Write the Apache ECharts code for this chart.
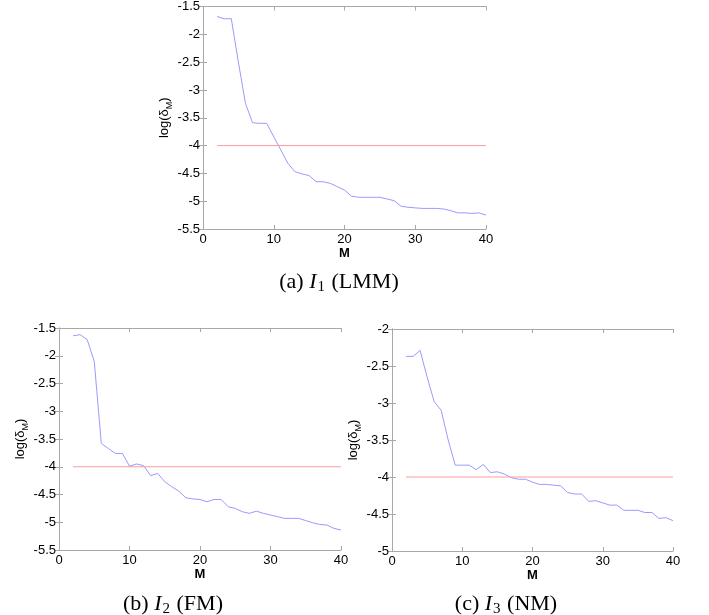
<!DOCTYPE html>
<html>
<head>
<meta charset="utf-8">
<script src="https://cdn.jsdelivr.net/npm/echarts@6/dist/echarts.min.js"></script>
<style>
html,body{margin:0;padding:0;background:#fff;}
#c{width:709px;height:615px;}
</style>
</head>
<body>
<div id="c"></div>
<script>
const M = [2,3,4,5,6,7,8,9,10,11,12,13,14,15,16,17,18,19,20,21,22,23,24,25,26,27,28,29,30,31,32,33,34,35,36,37,38,39,40];
const lmm = [-1.68,-1.72,-1.72,-2.5,-3.24,-3.59,-3.60,-3.60,-3.84,-4.08,-4.32,-4.47,-4.51,-4.54,-4.65,-4.65,-4.68,-4.74,-4.80,-4.91,-4.93,-4.93,-4.93,-4.93,-4.96,-4.99,-5.09,-5.11,-5.12,-5.13,-5.13,-5.13,-5.14,-5.17,-5.21,-5.21,-5.22,-5.21,-5.25];
const fm = [-1.64,-1.62,-1.71,-2.1,-3.58,-3.67,-3.76,-3.76,-3.99,-3.95,-3.98,-4.16,-4.12,-4.27,-4.36,-4.44,-4.56,-4.58,-4.59,-4.63,-4.59,-4.59,-4.72,-4.75,-4.81,-4.84,-4.80,-4.84,-4.87,-4.90,-4.93,-4.93,-4.93,-4.97,-5.01,-5.04,-5.05,-5.11,-5.14];
const nm = [-2.37,-2.37,-2.29,-2.65,-2.98,-3.10,-3.50,-3.84,-3.84,-3.84,-3.90,-3.83,-3.94,-3.93,-3.96,-4.01,-4.03,-4.03,-4.07,-4.10,-4.10,-4.11,-4.12,-4.21,-4.23,-4.23,-4.33,-4.32,-4.35,-4.38,-4.38,-4.45,-4.45,-4.45,-4.48,-4.48,-4.56,-4.55,-4.59];
const thresholdM = [2, 40];
const thresholdVal = -4;
const yRanges = [[-5.5,-1.5],[-5.5,-1.5],[-5,-2]];
const xTicks = [0, 40, 10];
const captions = [
  ['(a) ', 'I', '1', ' (LMM)'],
  ['(b) ', 'I', '2', ' (FM)'],
  ['(c) ', 'I', '3', ' (NM)']
];
const seriesData = [lmm, fm, nm];

const gridPos = [
  {left:203, top:6, width:283, height:223},
  {left:59, top:328, width:282, height:222},
  {left:392, top:329, width:281, height:222}
];
const axisColor = '#a8a8a8';
const sans = 'Liberation Sans, Arial, sans-serif';
const serif = 'Liberation Serif, Times New Roman, serif';
const labelFont = {color:'#000', fontFamily:sans, fontSize:13};

const grids = [], xAxes = [], yAxes = [], series = [], titles = [];
gridPos.forEach((g, i) => {
  grids.push(Object.assign({containLabel:false}, g));
  const common = {
    type:'value', gridIndex:i, splitLine:{show:false},
    axisLine:{show:true, lineStyle:{color:axisColor, width:1}},
    axisTick:{show:true, inside:true, length:4, lineStyle:{color:axisColor}}
  };
  xAxes.push(Object.assign({}, common, {
    position:'bottom', min:xTicks[0], max:xTicks[1], interval:xTicks[2],
    axisLabel:Object.assign({margin:4}, labelFont),
    name:'M', nameLocation:'middle', nameGap:13,
    nameTextStyle:{color:'#000', fontFamily:sans, fontSize:13, fontWeight:'bold'}
  }));
  xAxes.push(Object.assign({}, common, {
    position:'top', min:xTicks[0], max:xTicks[1], interval:xTicks[2], axisLabel:{show:false}
  }));
  yAxes.push(Object.assign({}, common, {
    position:'left', min:yRanges[i][0], max:yRanges[i][1], interval:0.5,
    axisLabel:Object.assign({margin:3}, labelFont),
    name:'{a|log(δ}{s|M}{a|)}', nameLocation:'middle', nameRotate:90, nameGap:21,
    nameTextStyle:{
      rich:{
        a:{color:'#000', fontFamily:sans, fontSize:13, lineHeight:18, verticalAlign:'middle'},
        s:{color:'#000', fontFamily:sans, fontSize:9, lineHeight:18, verticalAlign:'bottom', padding:[6,0,0,0]}
      }
    }
  }));
  yAxes.push(Object.assign({}, common, {
    position:'right', min:yRanges[i][0], max:yRanges[i][1], interval:0.5, axisLabel:{show:false}
  }));
  series.push({
    type:'line', xAxisIndex:2*i, yAxisIndex:2*i, showSymbol:false, silent:true,
    data: M.map((m, k) => [m, seriesData[i][k]]),
    lineStyle:{color:'#9a9aff', width:1}
  });
  series.push({
    type:'line', xAxisIndex:2*i, yAxisIndex:2*i, showSymbol:false, silent:true,
    data: thresholdM.map(m => [m, thresholdVal]),
    lineStyle:{color:'#ff9c9c', width:1}
  });
});

const capPos = [{x:334, y:264}, {x:168, y:586}, {x:501, y:586}];
captions.forEach((c, i) => {
  titles.push({
    text:'{r|' + c[0] + '}{i|' + c[1] + '}{s|' + c[2] + '}{r|' + c[3] + '}',
    left:capPos[i].x, top:capPos[i].y, textAlign:'center',
    textStyle:{
      fontWeight:'normal',
      rich:{
        r:{fontFamily:serif, fontSize:22, fontWeight:'normal', color:'#000', lineHeight:26},
        i:{fontFamily:serif, fontSize:22, fontStyle:'italic', fontWeight:'normal', color:'#000', lineHeight:26},
        s:{fontFamily:serif, fontSize:15, fontWeight:'normal', color:'#000', lineHeight:26, verticalAlign:'bottom', padding:[9,1,0,1]}
      }
    }
  });
});

const chart = echarts.init(document.getElementById('c'), null, {renderer:'canvas'});
chart.setOption({
  animation:false,
  backgroundColor:'#fff',
  title:titles,
  grid:grids,
  xAxis:xAxes,
  yAxis:yAxes,
  series:series
});
</script>
</body>
</html>
